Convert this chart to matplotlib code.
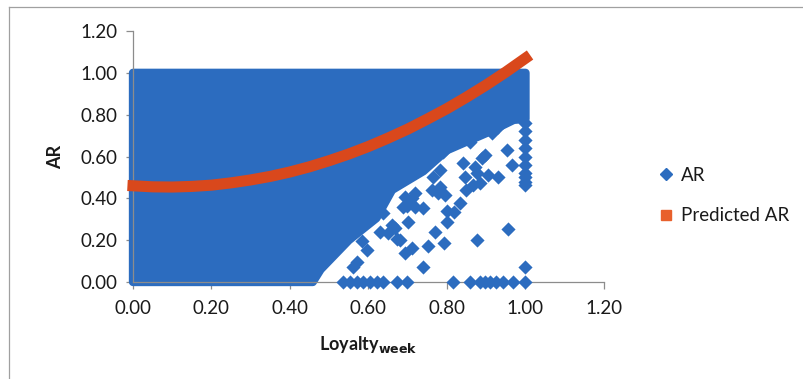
import matplotlib
matplotlib.use("Agg")
import matplotlib.pyplot as plt
from matplotlib.patches import Polygon
from matplotlib.lines import Line2D

plt.rcParams['font.family'] = ['Lato', 'DejaVu Sans']

# Dense body of observations (outline of the solid cloud)
cloud_x = [0.00, 1.00, 1.00, 0.970, 0.910, 0.800, 0.740, 0.660, 0.620, 0.550, 0.478, 0.458, 0.00]
cloud_y = [1.00, 1.00, 0.78, 0.775, 0.720, 0.630, 0.530, 0.440, 0.305, 0.200, 0.060, 0.000, 0.00]

# Individual observations along the sparse lower-right edge
ar_x = [0.536, 0.553, 0.570, 0.587, 0.604, 0.621, 0.638, 0.672, 0.697, 0.816, 0.859, 0.884,
        0.897, 0.910, 0.926, 0.943, 0.969, 1.000,
        0.956, 0.876, 1.000, 0.740, 0.792, 0.769, 0.751, 0.712, 0.693, 0.799, 0.799, 0.818,
        0.833, 0.848, 0.672, 0.680, 0.701, 0.659, 0.667, 0.629, 0.650, 0.595, 0.583, 0.570,
        0.561, 0.638, 0.689, 0.697, 0.718, 0.693, 0.710, 0.718, 0.778, 0.795, 0.761, 0.846,
        0.867, 0.884, 0.905, 0.931, 0.876, 1.000, 1.000, 0.765, 0.782, 0.740, 0.952, 0.965,
        0.914, 0.859, 0.897, 0.888, 0.808, 0.829, 0.842, 0.871, 0.791, 0.782, 0.931,
        1.000, 1.000, 1.000, 1.000, 1.000, 1.000, 1.000, 1.000]
ar_y = [0.000, 0.000, 0.000, 0.000, 0.000, 0.000, 0.000, 0.000, 0.000, 0.000, 0.000, 0.000,
        0.000, 0.000, 0.000, 0.000, 0.000, 0.000,
        0.252, 0.201, 0.070, 0.073, 0.185, 0.241, 0.172, 0.161, 0.137, 0.289, 0.341, 0.336,
        0.380, 0.440, 0.204, 0.201, 0.289, 0.273, 0.258, 0.241, 0.233, 0.153, 0.198, 0.097,
        0.073, 0.329, 0.360, 0.364, 0.360, 0.408, 0.400, 0.424, 0.424, 0.416, 0.440, 0.504,
        0.464, 0.472, 0.512, 0.504, 0.520, 0.504, 0.464, 0.504, 0.456, 0.353, 0.632, 0.560,
        0.711, 0.671, 0.608, 0.592, 0.688, 0.727, 0.568, 0.552, 0.623, 0.536, 0.740,
        0.480, 0.520, 0.560, 0.600, 0.640, 0.680, 0.720, 0.760]

# Fitted (predicted) AR
pred_x = [0.00, 0.05, 0.10, 0.15, 0.20, 0.25, 0.30, 0.35, 0.40, 0.45, 0.50,
          0.55, 0.60, 0.65, 0.70, 0.75, 0.80, 0.85, 0.90, 0.95, 1.00]
pred_y = [0.460, 0.455, 0.454, 0.457, 0.463, 0.474, 0.488, 0.505, 0.526, 0.551, 0.580,
          0.612, 0.648, 0.688, 0.731, 0.779, 0.829, 0.884, 0.942, 1.004, 1.070]

ticks = [0.0, 0.2, 0.4, 0.6, 0.8, 1.0, 1.2]

BLUE = '#2C6CBF'
ORANGE = '#D9481C'
LEG_ORANGE = '#E8602C'
AXIS = '#8C8C8C'
TEXT = '#1A1A1A'

W, H = 804, 379
fig = plt.figure(figsize=(W / 100, H / 100), dpi=100)
ax = fig.add_axes([133 / W, (H - 282) / H, (604 - 133) / W, (282 - 31) / H])

ax.add_patch(Polygon(list(zip(cloud_x, cloud_y)), closed=True, facecolor=BLUE,
                     edgecolor=BLUE, linewidth=6, joinstyle='round', clip_on=False, zorder=2))
ax.scatter(ar_x, ar_y, marker='D', s=52, color=BLUE, linewidths=0, clip_on=False, zorder=3)
ax.plot(pred_x, pred_y, color=ORANGE, linewidth=8, solid_capstyle='projecting',
        clip_on=False, zorder=4)

ax.set_xlim(0, 1.2)
ax.set_ylim(0, 1.2)
ax.set_xticks(ticks)
ax.set_yticks(ticks)
ax.set_xticklabels([f'{t:.2f}' for t in ticks])
ax.set_yticklabels([f'{t:.2f}' for t in ticks])
for s in ('top', 'right'):
    ax.spines[s].set_visible(False)
for s in ('left', 'bottom'):
    ax.spines[s].set_color(AXIS)
    ax.spines[s].set_linewidth(0.9)
ax.tick_params(axis='both', colors=AXIS, labelcolor=TEXT, labelsize=13.5,
               length=5, width=0.9, direction='out')
ax.tick_params(axis='y', pad=6)
ax.tick_params(axis='x', pad=8)

ax.set_ylabel('AR', fontsize=13, fontweight='bold', color=TEXT, labelpad=12)
ax.set_xlabel(r'Loyalty$_{\mathbf{week}}$', fontsize=13, fontweight='bold',
              color=TEXT, labelpad=12)

handles = [Line2D([], [], marker='D', ls='', color=BLUE, markersize=6),
           Line2D([], [], marker='s', ls='', color=LEG_ORANGE, markersize=7)]
fig.legend(handles, ['AR', 'Predicted AR'], loc='upper left',
           bbox_to_anchor=(640 / W, 1 - 150 / H), frameon=False, fontsize=13.5,
           labelspacing=1.25, handletextpad=0.3, handlelength=1.0, labelcolor=TEXT)

# chart-area border
fig.add_artist(Line2D([9 / W, 9 / W], [0, 1 - 7 / H], color='#A0A0A0', lw=0.9))
fig.add_artist(Line2D([9 / W, 1], [1 - 7 / H, 1 - 7 / H], color='#A0A0A0', lw=0.9))

fig.savefig('out.png', dpi=100)
